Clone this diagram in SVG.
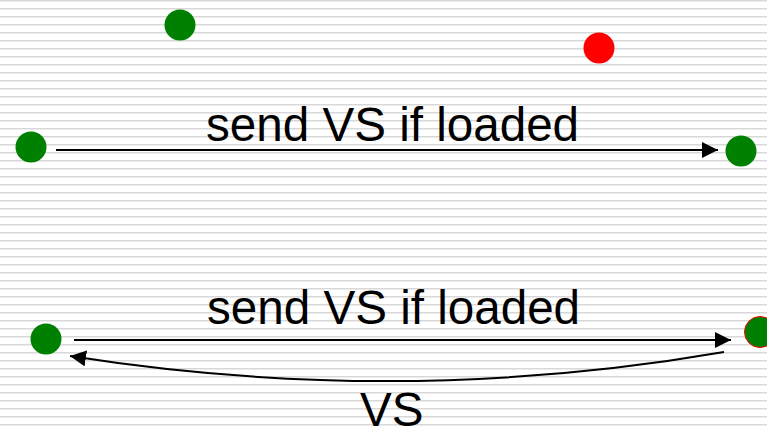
<svg xmlns="http://www.w3.org/2000/svg" width="767" height="426" viewBox="0 0 767 426">
<defs>
<pattern id="stripes" x="0" y="0" width="8" height="8" patternUnits="userSpaceOnUse">
<rect width="8" height="8" fill="#ffffff"/>
<rect y="0" width="8" height="1" fill="#d8d8d8"/>
<rect y="1" width="8" height="1" fill="#ececec"/>
</pattern>
<marker id="arrow" viewBox="0 0 16 16" refX="16" refY="8" markerWidth="16" markerHeight="16" markerUnits="userSpaceOnUse" orient="auto">
<path d="M0,0 L16,8 L0,16 Z" fill="#000"/>
</marker>
<style>
.node{fill:#008000}
.red{fill:#ff0000}
.lbl{font-family:"Liberation Sans",Arial,sans-serif;font-size:47.6px;fill:#000}
.conn{stroke:#000;stroke-width:2;fill:none}
</style>
</defs>
<rect width="767" height="426" fill="url(#stripes)"/>
<g id="n1"><circle class="node" cx="180" cy="25" r="15.5"/></g>
<g id="n2"><circle class="red" cx="599" cy="48" r="15.5"/></g>
<g id="n3"><circle class="node" cx="31" cy="147" r="15.5"/></g>
<g id="n4"><circle class="node" cx="741" cy="151" r="15.5"/></g>
<g id="n5"><circle class="node" cx="46" cy="339" r="15.5"/></g>
<g id="n6"><circle class="node" cx="760" cy="332" r="15.5" stroke="#ff0000" stroke-width="1"/></g>
<g id="connectors">
<line class="conn" x1="56" y1="150" x2="718" y2="150" marker-end="url(#arrow)"/>
<line class="conn" x1="74" y1="340" x2="731" y2="340" marker-end="url(#arrow)"/>
<path class="conn" d="M724,352 Q400,408 70,356" marker-end="url(#arrow)"/>
</g>
<g id="labels">
<text class="lbl" x="206" y="141">send VS if loaded</text>
<text class="lbl" x="207" y="324">send VS if loaded</text>
<text class="lbl" x="360" y="426">VS</text>
</g>
</svg>
